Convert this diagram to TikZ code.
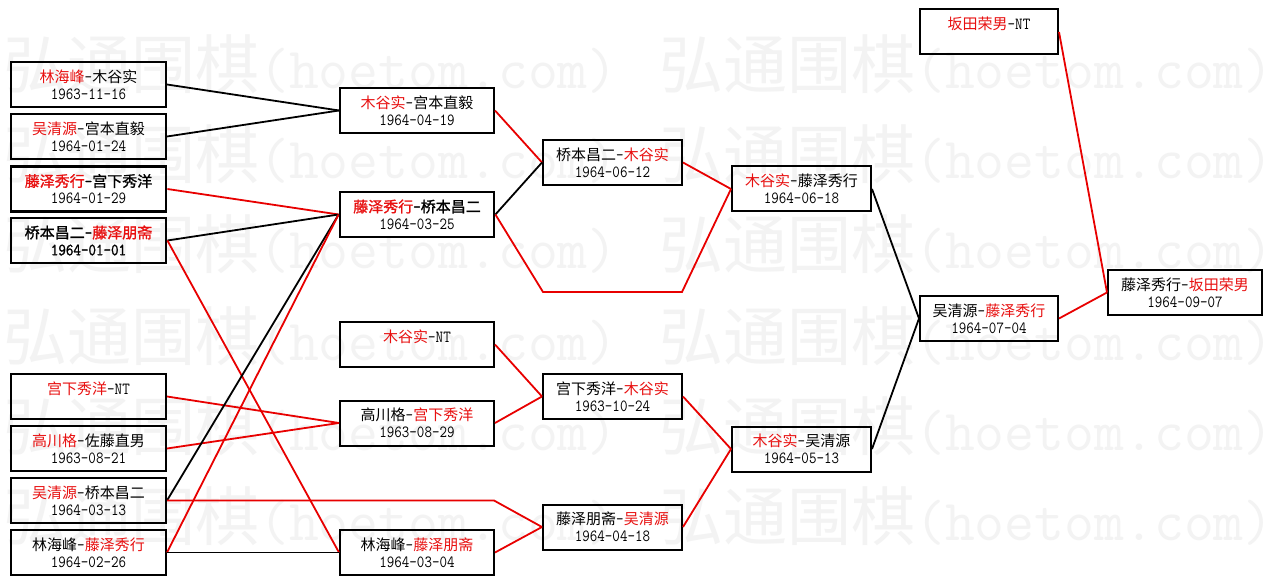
\documentclass[tikz,border=0pt]{standalone}
\usepackage{fontspec}
\setmainfont{Noto Sans CJK SC}[BoldFont={Noto Sans CJK SC},BoldFeatures={FakeBold=1.3}]
\newfontfamily\datefont{lmmono12-regular.otf}[FakeStretch=0.86,BoldFont={lmmono12-regular.otf},BoldFeatures={FakeBold=1.5}]
\definecolor{wred}{RGB}{232,16,16}
\definecolor{lred}{RGB}{232,0,0}
\definecolor{wmgray}{RGB}{243,243,243}
\newcommand\wn[1]{\textcolor{wred}{#1}}
\newcommand\hy{{\datefont\fontsize{17pt}{17pt}\selectfont -}}
\newcommand\dt[1]{{\datefont\fontsize{17pt}{17pt}\selectfont #1}}
\newcommand\nt{{\datefont\fontsize{17pt}{17pt}\selectfont NT}}
\newcommand\nodate{\phantom{\datefont\fontsize{17pt}{17pt}\selectfont 0}}
\tikzset{
  game/.style={draw=black, line width=2pt, minimum height=45pt, inner sep=0pt,
    align=center, font=\fontsize{15pt}{17pt}\selectfont},
  gwide/.style={game, minimum width=154pt},
  gnarrow/.style={game, minimum width=139pt},
  hl/.style={line width=2.8pt, font=\fontsize{15pt}{17pt}\selectfont\bfseries},
  bl/.style={draw=black, line width=1.8pt},
  rd/.style={draw=lred, line width=1.8pt},
  wmark/.style={text=wmgray, inner sep=0pt, anchor=base west}
}
\begin{document}
\begin{tikzpicture}[x=1pt,y=-1pt]
\useasboundingbox (0,0) rectangle (1272,585);
\fill[white] (0,0) rectangle (1272,585);
% watermark
\begin{scope}
\clip (0,0) rectangle (1272,585);
\foreach \yy in {89,179,269,360,450,540}{
  \foreach \xx in {3,659}{
    \node[wmark, name=wm\xx x\yy] at (\xx,\yy) {\fontsize{64pt}{64pt}\selectfont 弘通围棋{\ttfamily\fontsize{58pt}{58pt}\selectfont(hoetom.com)}};
  }
}
\end{scope}
% column A
\node[gwide, minimum width=155pt] (a1) at (88.5,84.5) {\wn{林海峰}\hy 木谷实\\\dt{1963-11-16}};
\node[gwide, minimum width=155pt] (a2) at (88.5,136.5) {\wn{吴清源}\hy 宫本直毅\\\dt{1964-01-24}};
\node[gwide, minimum width=155pt, hl] (a3) at (88.5,189) {\wn{藤泽秀行}\hy 宫下秀洋\\\dt{\mdseries 1964-01-29}};
\node[gwide, minimum width=155pt, hl] (a4) at (88.5,240.5) {桥本昌二\hy\wn{藤泽朋斋}\\\dt{1964-01-01}};
\node[gwide, minimum width=155pt] (a5) at (88.5,396.5) {\wn{宫下秀洋}\hy\nt\\\nodate};
\node[gwide, minimum width=155pt] (a6) at (88.5,448.5) {\wn{高川格}\hy 佐藤直男\\\dt{1963-08-21}};
\node[gwide, minimum width=155pt] (a7) at (88.5,500.5) {\wn{吴清源}\hy 桥本昌二\\\dt{1964-03-13}};
\node[gwide, minimum width=155pt] (a8) at (88.5,552.5) {林海峰\hy\wn{藤泽秀行}\\\dt{1964-02-26}};
% column B
\node[gwide] (b1) at (417,110.5) {\wn{木谷实}\hy 宫本直毅\\\dt{1964-04-19}};
\node[gwide, hl] (b2) at (417,214.5) {\wn{藤泽秀行}\hy 桥本昌二\\\dt{\mdseries 1964-03-25}};
\node[gwide] (b3) at (417,344.5) {\wn{木谷实}\hy\nt\\\nodate};
\node[gwide] (b4) at (417,423) {高川格\hy\wn{宫下秀洋}\\\dt{1963-08-29}};
\node[gwide] (b5) at (417,552.5) {林海峰\hy\wn{藤泽朋斋}\\\dt{1964-03-04}};
% column C
\node[gnarrow] (c1) at (612.5,162.5) {桥本昌二\hy\wn{木谷实}\\\dt{1964-06-12}};
\node[gnarrow] (c2) at (612.5,396.5) {宫下秀洋\hy\wn{木谷实}\\\dt{1963-10-24}};
\node[gnarrow] (c3) at (612.5,527) {藤泽朋斋\hy\wn{吴清源}\\\dt{1964-04-18}};
% column D
\node[gnarrow] (d1) at (801.5,189) {\wn{木谷实}\hy 藤泽秀行\\\dt{1964-06-18}};
\node[gnarrow] (d2) at (801.5,449) {\wn{木谷实}\hy 吴清源\\\dt{1964-05-13}};
% column E
\node[gnarrow, minimum width=138pt] (e0) at (989,32) {\wn{坂田荣男}\hy\nt\\\nodate};
\node[gnarrow, minimum width=138pt] (e1) at (989,318.5) {吴清源\hy\wn{藤泽秀行}\\\dt{1964-07-04}};
% column F
\node[gwide] (f1) at (1185,292.5) {藤泽秀行\hy\wn{坂田荣男}\\\dt{1964-09-07}};
% bend points
\coordinate (k1) at (494,500.5);
\coordinate (k2) at (543,292);
\coordinate (k3) at (682,292);
% connectors
\draw[bl] (a1.east) -- (b1.west);
\draw[bl] (a2.east) -- (b1.west);
\draw[rd] (a3.east) -- (b2.west);
\draw[bl] (a4.east) -- (b2.west);
\draw[rd] (a4.east) -- (b5.west);
\draw[rd] (a5.east) -- (b4.west);
\draw[rd] (a6.east) -- (b4.west);
\draw[bl] (a7.east) -- (b2.west);
\draw[rd] (a7.east) -- (k1) -- (c3.west);
\draw[rd] (a8.east) -- (b2.west);
\draw[bl] (a8.east) -- (b5.west);
\draw[rd] (b1.east) -- (c1.west);
\draw[bl] (b2.east) -- (c1.west);
\draw[rd] (b2.east) -- (k2) -- (k3) -- (d1.west);
\draw[rd] (b3.east) -- (c2.west);
\draw[rd] (b4.east) -- (c2.west);
\draw[rd] (b5.east) -- (c3.west);
\draw[rd] (c1.east) -- (d1.west);
\draw[rd] (c2.east) -- (d2.west);
\draw[rd] (c3.east) -- (d2.west);
\draw[bl] (d1.east) -- (e1.west);
\draw[bl] (d2.east) -- (e1.west);
\draw[rd] (e0.east) -- (f1.west);
\draw[rd] (e1.east) -- (f1.west);
\end{tikzpicture}
\end{document}
